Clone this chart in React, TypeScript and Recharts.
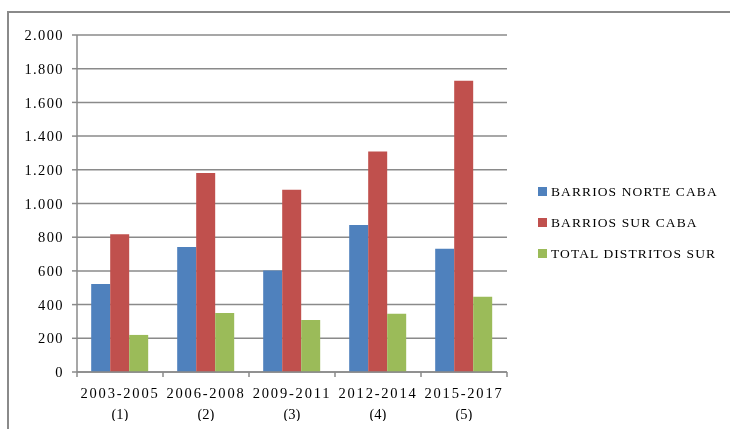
import React from 'react';
import { BarChart, Bar, XAxis, YAxis, CartesianGrid, Legend } from 'recharts';

const periods = ['2003-2005', '2006-2008', '2009-2011', '2012-2014', '2015-2017'];
const periodNumbers = ['(1)', '(2)', '(3)', '(4)', '(5)'];

const barriosNorte = [522, 742, 602, 872, 732];
const barriosSur = [817, 1181, 1082, 1308, 1729];
const distritosSur = [220, 350, 309, 346, 447];

const yTicks = [0, 200, 400, 600, 800, 1000, 1200, 1400, 1600, 1800, 2000];

const seriesNames = ['BARRIOS NORTE CABA', 'BARRIOS SUR CABA', 'TOTAL DISTRITOS SUR'];
const seriesColors = ['#4F81BD', '#C0504D', '#9BBB59'];

const data = periods.map((period, i) => ({
    period,
    num: periodNumbers[i],
    norte: barriosNorte[i],
    sur: barriosSur[i],
    distritos: distritosSur[i]
}));

const FONT = '"Liberation Serif", serif';
const AXIS_GRAY = '#8a8a8a';

// thousands with a dot, e.g. 1.800
const formatThousands = (v: number) => String(v).replace(/\B(?=(\d{3})+(?!\d))/g, '.');

// two-line period label plus tick marks on the category boundaries
const PeriodTick = (props: any) => {
    const { x, y, payload, index, width, visibleTicksCount } = props;
    const axisY = y - 5;
    const half = width / visibleTicksCount / 2;
    const isLast = index === visibleTicksCount - 1;
    return (
        <g>
            <line x1={x - half} x2={x - half} y1={axisY} y2={axisY + 5} stroke={AXIS_GRAY} strokeWidth={1.5} />
            {isLast && (
                <line x1={x + half} x2={x + half} y1={axisY} y2={axisY + 5} stroke={AXIS_GRAY} strokeWidth={1.5} />
            )}
            <text x={x} y={axisY + 26} textAnchor="middle" fontFamily={FONT} fontSize={14.5} letterSpacing={1.8} fill="#000">
                {payload.value}
            </text>
            <text x={x} y={axisY + 47} textAnchor="middle" fontFamily={FONT} fontSize={14.5} fill="#000">
                {data[index].num}
            </text>
        </g>
    );
};

const SideLegend = () => (
    <div style={{ fontFamily: FONT, fontSize: 13.5, color: '#000' }}>
        {seriesNames.map((name, i) => (
            <div key={name} style={{ display: 'flex', alignItems: 'center', height: 31 }}>
                <span style={{ width: 9, height: 9, background: seriesColors[i], marginRight: 4 }} />
                <span style={{ letterSpacing: 1.1 }}>{name}</span>
            </div>
        ))}
    </div>
);

export default function App() {
    return (
        <div style={{ position: 'relative', width: 714, height: 413, overflow: 'hidden', background: '#fff' }}>
            {/* outer frame, open on the right and bottom */}
            <div
                style={{
                    position: 'fixed',
                    left: 7,
                    top: 11,
                    width: 760,
                    height: 460,
                    borderTop: `2px solid ${AXIS_GRAY}`,
                    borderLeft: `2px solid ${AXIS_GRAY}`
                }}
            />
            <BarChart
                width={714}
                height={413}
                data={data}
                margin={{ top: 27, right: 215, left: 0, bottom: 0 }}
                barCategoryGap="16.5%"
                barGap={0}
            >
                <CartesianGrid vertical={false} stroke={AXIS_GRAY} strokeWidth={1.5} />
                <XAxis
                    dataKey="period"
                    height={49}
                    interval={0}
                    stroke={AXIS_GRAY}
                    strokeWidth={1.5}
                    tickLine={false}
                    tickSize={5}
                    tickMargin={0}
                    tick={<PeriodTick />}
                />
                <YAxis
                    width={69}
                    domain={[0, 2000]}
                    ticks={yTicks}
                    interval={0}
                    stroke={AXIS_GRAY}
                    strokeWidth={1.5}
                    tickSize={5}
                    tickMargin={8}
                    tickFormatter={formatThousands}
                    tick={{ fill: '#000', fontFamily: FONT, fontSize: 14.5, letterSpacing: 1.4 }}
                />
                <Legend
                    layout="vertical"
                    align="center"
                    verticalAlign="middle"
                    wrapperStyle={{ left: 530, top: 168, width: 180 }}
                    content={<SideLegend />}
                />
                <Bar dataKey="norte" name={seriesNames[0]} fill={seriesColors[0]} isAnimationActive={false} />
                <Bar dataKey="sur" name={seriesNames[1]} fill={seriesColors[1]} isAnimationActive={false} />
                <Bar dataKey="distritos" name={seriesNames[2]} fill={seriesColors[2]} isAnimationActive={false} />
            </BarChart>
        </div>
    );
}
